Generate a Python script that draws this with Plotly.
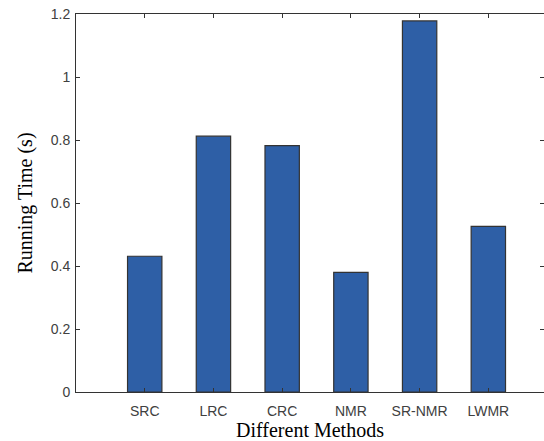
import plotly.graph_objects as go

methods = ["SRC", "LRC", "CRC", "NMR", "SR-NMR", "LWMR"]
positions = [1, 2, 3, 4, 5, 6]
running_time = [0.431, 0.812, 0.782, 0.380, 1.178, 0.526]
y_ticks = [0, 0.2, 0.4, 0.6, 0.8, 1, 1.2]
y_tick_text = ["0", "0.2", "0.4", "0.6", "0.8", "1", "1.2"]

fig = go.Figure()
fig.add_trace(go.Bar(
    x=positions, y=running_time, width=0.5,
    marker=dict(color="#2E5FA6", line=dict(color="#333333", width=1.2)),
))

tick_font = dict(family="Liberation Sans, Arial", size=14, color="#404040")
title_font = dict(family="Liberation Serif, Times New Roman", size=20, color="#000000")

fig.update_layout(
    width=544, height=441,
    margin=dict(l=76, r=0, t=14, b=49),
    paper_bgcolor="white", plot_bgcolor="white",
    showlegend=False,
    xaxis=dict(
        range=[0, 6.81], tickvals=positions, ticktext=methods,
        showline=True, linecolor="#333333", linewidth=1, mirror="ticks",
        ticks="inside", ticklen=4, tickcolor="#333333", showgrid=False, zeroline=False,
        tickfont=tick_font, ticklabelstandoff=6,
        title=dict(text="Different Methods", font=title_font, standoff=6),
    ),
    yaxis=dict(
        range=[0, 1.2], tickvals=y_ticks, ticktext=y_tick_text,
        showline=True, linecolor="#333333", linewidth=1, mirror="ticks",
        ticks="inside", ticklen=4, tickcolor="#333333", showgrid=False, zeroline=False,
        tickfont=tick_font, ticklabelstandoff=2,
        title=dict(text="Running Time (s)", font=title_font, standoff=12),
    ),
)

fig.write_html(
    "out.html",
    config={"displayModeBar": False},
    post_script="document.body.style.margin='0px';document.body.style.overflow='hidden';",
)
